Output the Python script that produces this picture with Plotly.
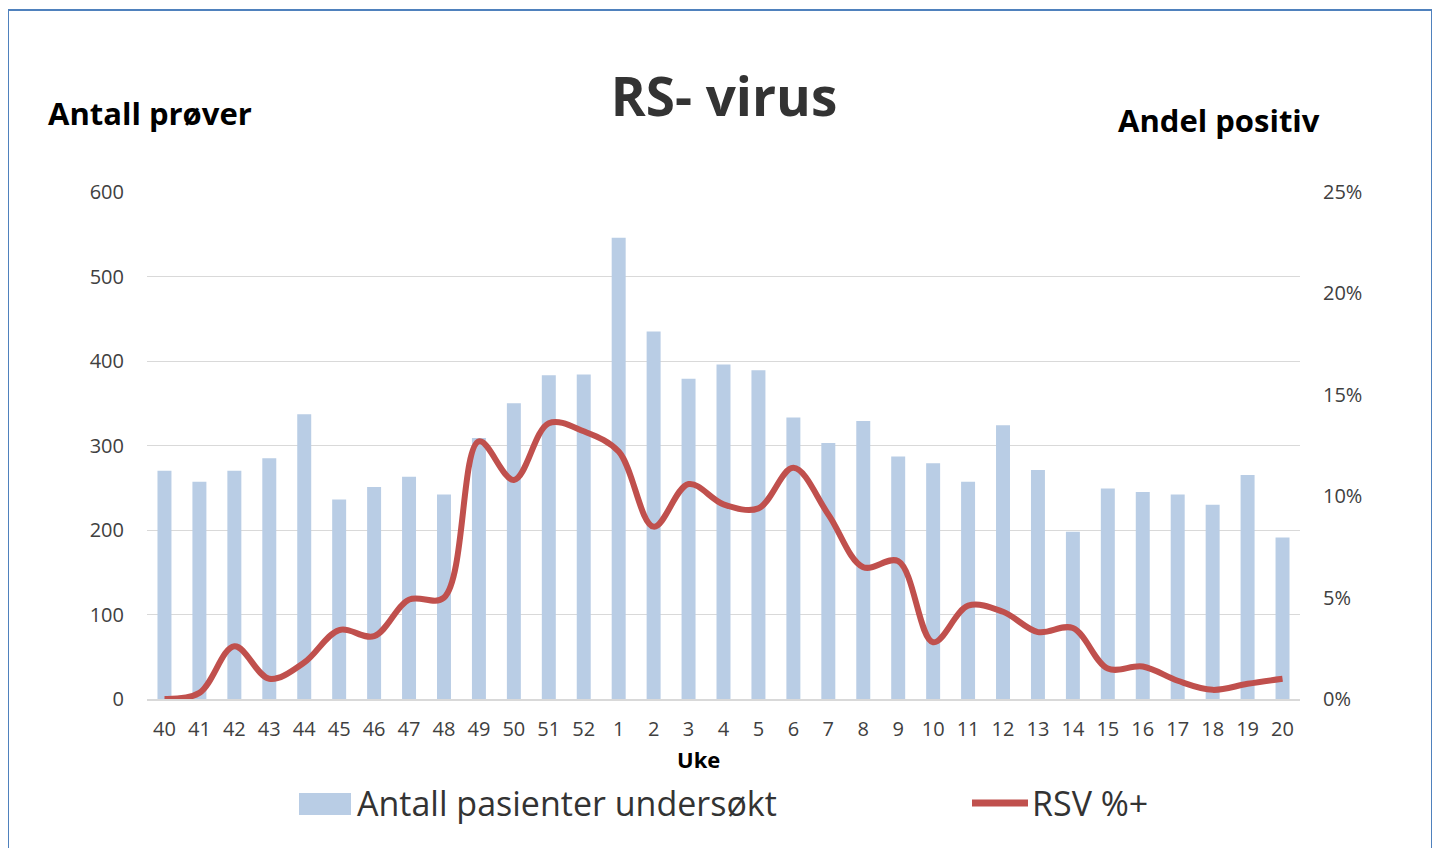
import plotly.graph_objects as go

# ---------------- data ----------------
weeks = ["40", "41", "42", "43", "44", "45", "46", "47", "48", "49", "50", "51", "52",
         "1", "2", "3", "4", "5", "6", "7", "8", "9", "10", "11", "12", "13", "14",
         "15", "16", "17", "18", "19", "20"]
antall_pasienter = [270, 257, 270, 285, 337, 236, 251, 263, 242, 309, 350, 383, 384,
                    546, 435, 379, 396, 389, 333, 303, 329, 287, 279, 257, 324, 271, 198,
                    249, 245, 242, 230, 265, 191]
rsv_pct = [0.000, 0.003, 0.026, 0.010, 0.018, 0.034, 0.031, 0.049, 0.050, 0.127, 0.108, 0.136, 0.132,
           0.122, 0.085, 0.106, 0.096, 0.094, 0.114, 0.091, 0.065, 0.068, 0.028, 0.046, 0.043, 0.033, 0.035,
           0.015, 0.016, 0.009, 0.0045, 0.0075, 0.010]
left_ticks = [0, 100, 200, 300, 400, 500, 600]
right_ticks = [0, 0.05, 0.10, 0.15, 0.20, 0.25]
right_labels = ["0%", "5%", "10%", "15%", "20%", "25%"]

# ---------------- layout geometry (page has an 8px body margin) ----------------
OFF = 8
W, H = 1432, 840
L, T = 147 - OFF, 192 - OFF
PW, PH = 1153, 507
R = W - L - PW
B = H - T - PH


def px(x):
    return (x - OFF - L) / PW


def py(y):
    return (T + PH - (y - OFF)) / PH


BAR_COLOR = "#B9CDE5"
LINE_COLOR = "#C0504D"
TICK_COLOR = "#404040"
FONT = "Open Sans"

fig = go.Figure()
fig.add_trace(go.Bar(
    x=weeks, y=antall_pasienter, name="Antall pasienter undersøkt",
    marker=dict(color=BAR_COLOR, line=dict(width=0)),
    yaxis="y", showlegend=False,
))
fig.add_trace(go.Scatter(
    x=weeks, y=rsv_pct, name="RSV %+", mode="lines",
    line=dict(color=LINE_COLOR, width=6, shape="spline", smoothing=1.0),
    yaxis="y2", showlegend=False,
))

fig.update_layout(
    width=W, height=H,
    margin=dict(l=L, r=R, t=T, b=B),
    paper_bgcolor="white", plot_bgcolor="white",
    bargap=0.6,
    font=dict(family=FONT, color=TICK_COLOR),
    title=dict(text="<b>RS- virus</b>", x=(724 - OFF) / W, xanchor="center",
               y=1 - (97 - OFF) / H, yanchor="middle",
               font=dict(family=FONT, size=53, color="#333333")),
    xaxis=dict(type="category", showgrid=False, showline=True,
               linecolor="#D9D9D9", linewidth=2, ticks="",
               tickfont=dict(size=20, color=TICK_COLOR), ticklabelstandoff=11),
    yaxis=dict(range=[0, 600], tickvals=left_ticks, showgrid=True,
               gridcolor="#D9D9D9", gridwidth=1, zeroline=False, showline=False,
               ticks="", tickfont=dict(size=20, color=TICK_COLOR),
               ticklabelstandoff=22),
    yaxis2=dict(range=[0, 0.25], tickvals=right_ticks, ticktext=right_labels,
                overlaying="y", side="right", showgrid=False, zeroline=False,
                showline=False, ticks="", tickfont=dict(size=20, color=TICK_COLOR),
                ticklabelstandoff=22),
    showlegend=False,
)

annotations = [
    dict(text="<b>Antall prøver</b>", x=px(46), y=py(113), xanchor="left", yanchor="middle",
         font=dict(size=31, color="black", family=FONT)),
    dict(text="<b>Andel positiv</b>", x=px(1322), y=py(120), xanchor="right", yanchor="middle",
         font=dict(size=31, color="black", family=FONT)),
    dict(text="<b>Uke</b>", x=px(698), y=py(759), xanchor="center", yanchor="middle",
         font=dict(size=22, color="black", family=FONT)),
    dict(text="Antall pasienter undersøkt", x=px(355), y=py(803), xanchor="left", yanchor="middle",
         font=dict(size=34, color="#333333", family=FONT)),
    dict(text="RSV %+", x=px(1030), y=py(803), xanchor="left", yanchor="middle",
         font=dict(size=34, color="#333333", family=FONT)),
]
for a in annotations:
    a.update(xref="paper", yref="paper", showarrow=False)
fig.update_layout(annotations=annotations)

shapes = [
    # outer chart frame
    dict(type="rect", x0=px(8), x1=px(1432), y0=py(870), y1=py(10),
         line=dict(color="#4F81BD", width=2), fillcolor="rgba(0,0,0,0)"),
    # legend swatches
    dict(type="rect", x0=px(299), x1=px(351), y0=py(815), y1=py(793),
         line=dict(width=0), fillcolor=BAR_COLOR),
    dict(type="line", x0=px(972), x1=px(1028), y0=py(803), y1=py(803),
         line=dict(color=LINE_COLOR, width=7)),
]
for s in shapes:
    s.update(xref="paper", yref="paper", layer="above")
fig.update_layout(shapes=shapes)

fig.write_html("out.html")
